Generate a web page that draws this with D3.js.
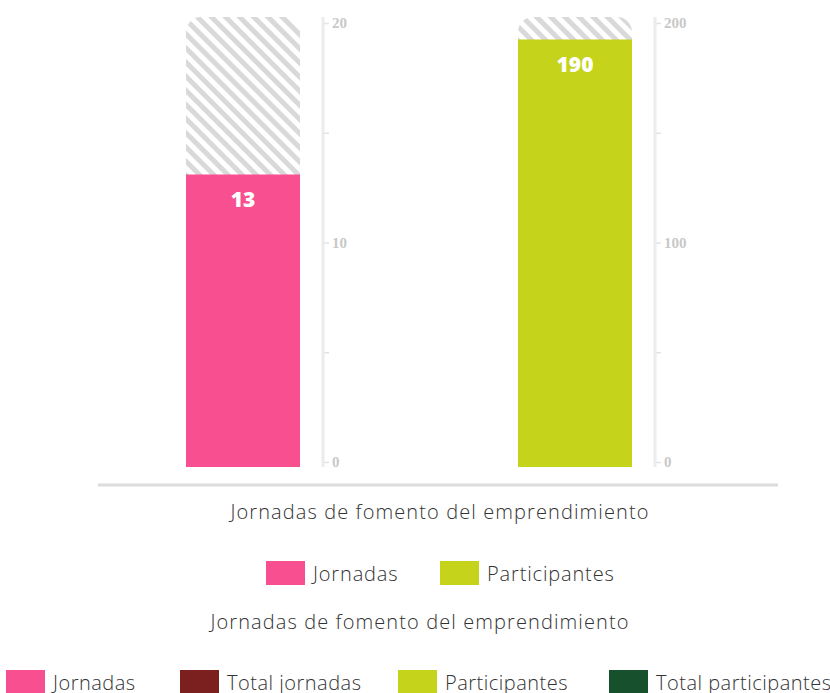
<!DOCTYPE html>
<html>
<head>
<meta charset="utf-8">
<script src="https://cdn.jsdelivr.net/npm/d3@7"></script>
<style>
  body { margin: 0; background: #fff; }
  svg { display: block; }
</style>
</head>
<body>
<div id="chart"></div>
<script>
// Chart data
const chartTitle = 'Jornadas de fomento del emprendimiento';
const seriesNames = ['Jornadas', 'Participantes'];
const seriesValues = [13, 190];
const seriesMax = [20, 200];
const seriesTicks = [[0, 5, 10, 15, 20], [0, 50, 100, 150, 200]];
const seriesColors = ['#f74f8f', '#c5d31b'];
const legend2Names = ['Jornadas', 'Total jornadas', 'Participantes', 'Total participantes'];
const legend2Colors = ['#f74f8f', '#7b1f1f', '#c5d31b', '#17502c'];

const width = 830;
const height = 693;
const font = '"Open Sans", Lato, sans-serif';

const svg = d3.select('#chart')
    .append('svg')
    .attr('width', width)
    .attr('height', height);

// Hatch pattern for remaining part
const defs = svg.append('defs');
const pattern = defs.append('pattern')
    .attr('id', 'hatch')
    .attr('patternUnits', 'userSpaceOnUse')
    .attr('width', 10)
    .attr('height', 10)
    .attr('patternTransform', 'rotate(45)');
pattern.append('rect')
    .attr('width', 10).attr('height', 10).attr('fill', '#fff');
pattern.append('rect')
    .attr('x', 0).attr('y', 0)
    .attr('width', 10).attr('height', 5)
    .attr('fill', '#d9d9d9');

const plotBottom = 467;
const plotTop = 17;
const barX = [186, 518];
const barW = 114;
const axisX = [323, 655];

seriesValues.forEach((v, i) => {
    const y = d3.scaleLinear().domain([0, seriesMax[i]]).range([plotBottom, plotTop]);
    const yAxisScale = d3.scaleLinear().domain([0, seriesMax[i]]).range([462, 23]);
    const g = svg.append('g');
    const x0 = barX[i];
    const r = 15;

    // hatched background with rounded top corners
    const yt = y(seriesMax[i]);
    const path = d3.path();
    path.moveTo(x0, plotBottom);
    path.lineTo(x0, yt + r);
    path.arcTo(x0, yt, x0 + r, yt, r);
    path.lineTo(x0 + barW - r, yt);
    path.arcTo(x0 + barW, yt, x0 + barW, yt + r, r);
    path.lineTo(x0 + barW, plotBottom);
    path.closePath();
    g.append('path')
        .attr('d', path.toString())
        .attr('fill', 'url(#hatch)');

    // value bar
    g.append('rect')
        .attr('x', x0)
        .attr('y', y(v))
        .attr('width', barW)
        .attr('height', plotBottom - y(v))
        .attr('fill', seriesColors[i]);

    g.append('text')
        .attr('x', x0 + barW / 2)
        .attr('y', y(v) + 32)
        .attr('text-anchor', 'middle')
        .attr('font-family', font)
        .attr('font-weight', 800)
        .attr('font-size', 21)
        .attr('fill', '#fff')
        .text(v);

    // axis
    const axis = d3.axisRight(yAxisScale)
        .tickValues(seriesTicks[i])
        .tickSize(6)
        .tickPadding(3)
        .tickFormat((d, k) => (k % 2 === 0 ? d : ''));
    const ag = svg.append('g')
        .attr('transform', `translate(${axisX[i]},0)`)
        .call(axis);
    ag.select('.domain').remove();
    ag.append('line')
        .attr('x1', 0).attr('x2', 0)
        .attr('y1', 17).attr('y2', 467)
        .attr('stroke', '#ececec')
        .attr('stroke-width', 3);
    ag.selectAll('.tick line').attr('stroke', '#e3e3e3').attr('stroke-width', 1.5);
    ag.selectAll('.tick text')
        .attr('fill', '#c8c8c8')
        .attr('font-family', '"Liberation Serif", serif')
        .attr('font-weight', 'bold')
        .attr('font-size', 15);
});

// baseline
svg.append('line')
    .attr('x1', 98).attr('x2', 778)
    .attr('y1', 485).attr('y2', 485)
    .attr('stroke', '#dcdcdc')
    .attr('stroke-width', 3);

function addTitle(y, cx) {
    svg.append('text')
        .attr('x', cx)
        .attr('y', y)
        .attr('text-anchor', 'middle')
        .attr('font-family', font)
        .attr('font-weight', 300)
        .attr('font-size', 20)
        .attr('letter-spacing', 1.1)
        .attr('fill', '#333')
        .text(chartTitle);
}

function addLegend(names, colors, xs, y, spacing) {
    names.forEach((n, i) => {
        svg.append('rect')
            .attr('x', xs[i])
            .attr('y', y)
            .attr('width', 39)
            .attr('height', 24)
            .attr('fill', colors[i]);
        svg.append('text')
            .attr('x', xs[i] + 47)
            .attr('y', y + 20)
            .attr('font-family', font)
            .attr('font-weight', 300)
            .attr('font-size', 20)
            .attr('letter-spacing', spacing)
            .attr('fill', '#333')
            .text(n);
    });
}

addTitle(519, 440);
addLegend(seriesNames, seriesColors, [266, 440], 561, 0.85);
addTitle(629, 420);
addLegend(legend2Names, legend2Colors, [6, 180, 398, 609], 670, 0.5);
</script>
</body>
</html>
